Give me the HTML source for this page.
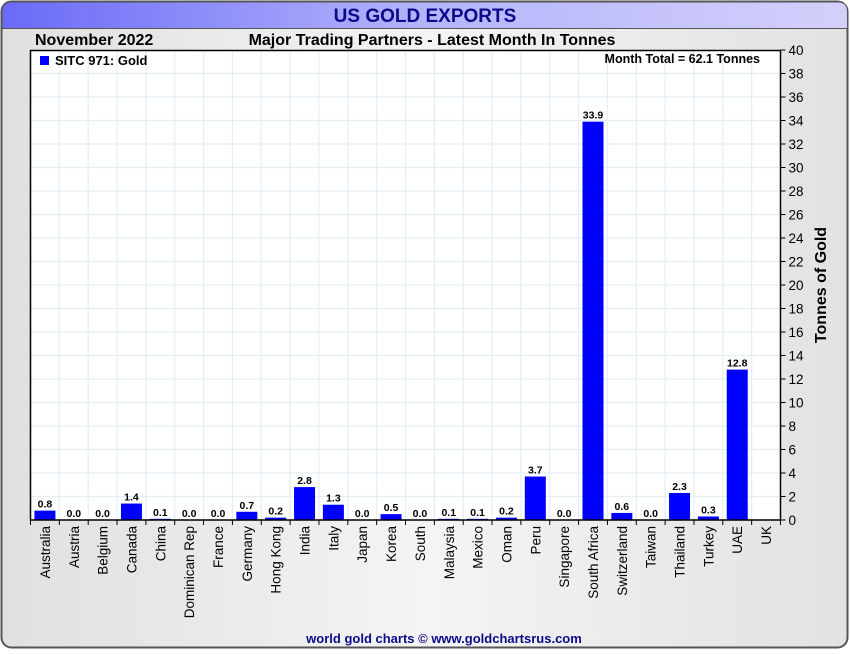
<!DOCTYPE html>
<html><head><meta charset="utf-8"><style>
body{margin:0;width:850px;height:650px;overflow:hidden;background:#fff;font-family:"Liberation Sans",Arial,sans-serif}
</style></head><body>
<svg id="c" width="850" height="650" xmlns="http://www.w3.org/2000/svg">
<defs>
<linearGradient id="hg" x1="0" x2="1" y1="0" y2="0"><stop offset="0" stop-color="#6a6af8"/><stop offset="0.5" stop-color="#b4b4fb"/><stop offset="1" stop-color="#d4d0fb"/></linearGradient>
<linearGradient id="bg" x1="0" x2="1" y1="0" y2="0"><stop offset="0" stop-color="#e0e0e0"/><stop offset="0.5" stop-color="#f4f4f4"/><stop offset="1" stop-color="#e2e2e2"/></linearGradient>
</defs>
<rect x="1.5" y="1.5" width="846" height="646" rx="10" fill="url(#bg)" stroke="#555" stroke-width="2"/>
<path d="M2.5,28 L2.5,12 Q2.5,2.5 12,2.5 L838,2.5 Q847,2.5 847,12 L847,28 Z" fill="url(#hg)"/>
<line x1="2" y1="28.5" x2="847" y2="28.5" stroke="#555"/>
<text x="425" y="22" text-anchor="middle" font-size="19" font-weight="bold" fill="#0a0a8a">US GOLD EXPORTS</text>
<text x="35" y="45" font-size="16" font-weight="bold" fill="#000">November 2022</text>
<text x="432" y="45" text-anchor="middle" font-size="16" font-weight="bold" fill="#000">Major Trading Partners - Latest Month In Tonnes</text>
<rect x="30" y="50" width="750.5" height="470" fill="#fff"/>
<g id="grid"></g><g id="bars"></g><g id="axes"></g>
<rect x="30.5" y="50.5" width="750" height="469.5" fill="none" stroke="#000" stroke-width="1.5"/>
<rect x="40" y="56" width="9" height="9" fill="#0000ff"/>
<text x="55" y="65" font-size="13" font-weight="bold">SITC 971: Gold</text>
<text x="760" y="63" text-anchor="end" font-size="12.5" font-weight="bold">Month Total = 62.1 Tonnes</text>
<text transform="translate(826,285) rotate(-90)" text-anchor="middle" font-size="16" font-weight="bold">Tonnes of Gold</text>
<text x="444" y="643" text-anchor="middle" font-size="13" font-weight="bold" fill="#0a0a8a">world gold charts © www.goldchartsrus.com</text>
</svg>
<script>
const categories=["Australia","Austria","Belgium","Canada","China","Dominican Rep","France","Germany","Hong Kong","India","Italy","Japan","Korea","South","Malaysia","Mexico","Oman","Peru","Singapore","South Africa","Switzerland","Taiwan","Thailand","Turkey","UAE","UK"];
const values=[0.8,0,0,1.4,0.1,0,0,0.7,0.2,2.8,1.3,0,0.5,0,0.1,0.1,0.2,3.7,0,33.9,0.6,0,2.3,0.3,12.8,null];
const yTicks=[0,2,4,6,8,10,12,14,16,18,20,22,24,26,28,30,32,34,36,38,40];
const NS="http://www.w3.org/2000/svg";
const L=30.5,R=780.5,T=50,B=520,yMax=40;
const bw=(R-L)/categories.length;
const y=v=>B-(v/yMax)*(B-T);
const x=i=>L+bw*i+bw/2;
function mk(tag,a,p){const e=document.createElementNS(NS,tag);for(const k in a)e.setAttribute(k,a[k]);p.appendChild(e);return e;}
const grid=document.getElementById('grid'),bars=document.getElementById('bars'),axes=document.getElementById('axes');
for(let i=1;i<categories.length;i++){
  const gl=mk('line',{x1:L+bw*i,x2:L+bw*i,y1:T,y2:B,stroke:'#e3eef6','stroke-width':1.2},grid);
  
  
}
yTicks.forEach(t=>{
  const gl=mk('line',{x1:L,x2:R,y1:y(t),y2:y(t),stroke:'#e3eef6','stroke-width':1.2},grid);
  
  
  const tk=mk('line',{x1:R,x2:R+5,y1:y(t),y2:y(t),stroke:'#000'},axes);
  
  
  const tl=mk('text',{x:R+8,y:y(t)+5,'font-size':13.5},axes);
  tl.textContent=t;
  
  
});
for(let i=0;i<=categories.length;i++){
  const tk=mk('line',{x1:L+bw*i,x2:L+bw*i,y1:B,y2:B+5,stroke:'#000'},axes);
  
  
}
categories.forEach((c,i)=>{
  const v=values[i];
  if(v!==null){
    const r=mk('rect',{x:x(i)-10.5,y:y(v),width:21,height:B-y(v),fill:'#0000ff'},bars);
    
    
    const lb=mk('text',{x:x(i),y:y(v)-3,'text-anchor':'middle','font-size':10.5,'font-weight':'bold'},bars);
    lb.textContent=v.toFixed(1);
    
    
  }
  const t=mk('text',{transform:`translate(${x(i)+5},526) rotate(-90)`,'text-anchor':'end','font-size':13.5},axes);
  t.textContent=c;
  
  
});
</script>
</body></html>
